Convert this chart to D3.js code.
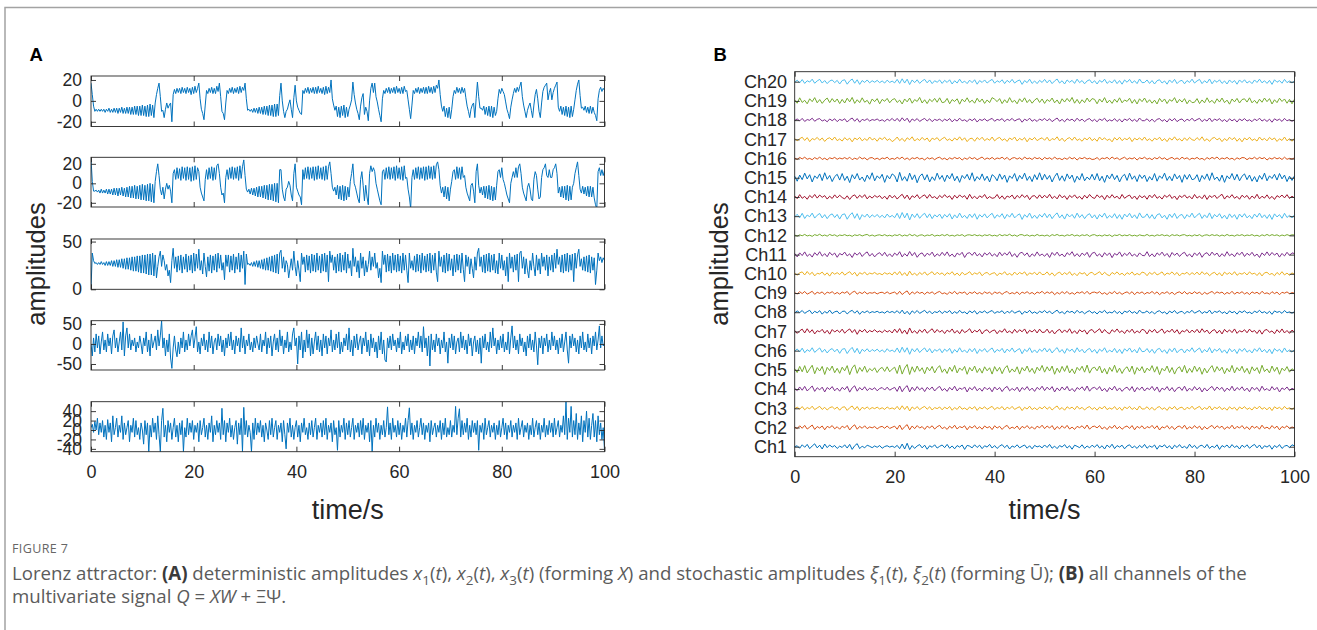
<!DOCTYPE html>
<html>
<head>
<meta charset="utf-8">
<title>Lorenz attractor</title>
<script src="https://cdn.jsdelivr.net/npm/d3@7"></script>
<style>
  html, body { margin: 0; padding: 0; background: #fff; }
  svg { display: block; }
  text { white-space: pre; }
</style>
</head>
<body>
<svg id="fig" width="1317" height="630"></svg>
<script>
// ---------- values ----------
const xTicks = [0, 20, 40, 60, 80, 100];
const yTicks1 = [-20, 0, 20];
const yTicks2 = [-20, 0, 20];
const yTicks3 = [0, 50];
const yTicks4 = [-50, 0, 50];
const yTicks5 = [-40, -20, 0, 20, 40];
const chNames = ["Ch1","Ch2","Ch3","Ch4","Ch5","Ch6","Ch7","Ch8","Ch9","Ch10",
                 "Ch11","Ch12","Ch13","Ch14","Ch15","Ch16","Ch17","Ch18","Ch19","Ch20"];

// panel A, sampled every 0.25 s over 0..100 s
const x1Vals = [17,6,-5,-10,
  -8,-10,-8,-10,-8,-10,-8,-11,-8,-10,-7,-11,-8,-11,-7,-11,-7,-12,-7,-11,-6,-12,-7,-12,-6,-12,-6,-13,-6,-13,-5,-13,-5,-14,-5,-14,-4,-14,-5,-15,-4,-15,-3,-14,-4,-16,
  -2,6,12,17,4,-10,-9,-16,-8,-2,-7,-4,-2,-20,6,
  11,7,12,8,12,7,13,8,12,7,13,8,12,6,13,7,14,8,
  12,17,2,-8,-12,-18,-4,10,
  7,12,8,13,7,12,7,14,
  9,17,4,-10,-12,-18,-2,10,
  7,12,8,13,7,12,8,13,7,14,8,
  13,10,17,2,-9,
  -8,-10,-8,-11,-7,-11,-7,-12,-6,-12,-6,-13,-5,-13,-5,-14,-4,-14,-4,-15,-3,-15,-3,
  -14,5,17,0,-10,-16,-10,-8,-3,1,-8,-16,3,15,0,-6,-9,-12,-13,10,
  7,12,8,13,7,12,8,13,7,13,7,14,8,12,7,13,6,14,7,
  13,8,20,2,-4,
  -9,-5,-15,-6,-16,-5,-14,-4,-16,-6,-15,
  -8,-4,1,18,6,-2,-8,-12,-18,-5,3,7,-13,-6,-10,-19,0,12,17,8,17,4,-1,-8,-14,-20,2,10,
  7,12,8,13,7,12,8,13,7,14,8,12,7,13,7,14,9,
  10,1,-8,-17,-4,10,
  7,12,8,13,7,12,8,13,7,13,7,14,8,13,7,14,8,15,
  12,20,6,-5,
  -10,-5,-15,-7,-16,-6,-17,
  -8,4,10,
  7,13,8,12,7,13,8,
  12,3,-5,-10,-16,-8,-4,-2,-16,2,18,4,-7,-7,
  -9,-5,-13,-6,-14,-5,-15,-5,-16,-6,-14,
  -10,2,11,7,12,9,6,-1,-8,-12,-17,-6,1,7,12,8,13,9,14,18,4,-4,-10,-16,-9,-5,-2,-9,-16,-4,6,11,2,-10,-16,-2,9,13,15,17,1,8,12,1,8,12,15,18,-6,
  -10,-5,-13,-6,-14,-5,-15,-6,-16,-5,-15,
  -8,1,10,16,20,5,-7,-6,
  -9,-5,-11,-6,-12,-5,-12,-6,-11,
  -14,-19,2,10,13,9,12,10];

const x2Vals = [25,2,-8,-8,
  -7,-9,-7,-10,-6,-10,-7,-10,-6,-11,-6,-11,-6,-12,-5,-12,-5,-13,-5,-12,-4,-13,-5,-14,-4,-14,-3,-15,-3,-15,-2,-16,-3,-16,-2,-17,-1,-17,-2,-18,-1,-18,0,-19,-1,-20,
  2,12,20,8,-6,-12,-4,-16,-6,0,-6,-2,-8,-20,10,
  14,4,16,5,15,3,17,5,16,3,17,4,16,2,17,3,18,4,
  16,12,-4,-10,-14,-18,4,14,
  4,16,5,17,3,16,4,18,
  20,10,-4,-12,-10,-20,6,14,
  4,16,5,17,4,16,5,17,3,18,5,
  17,24,8,-6,-9,
  -6,-11,-5,-12,-5,-13,-4,-14,-3,-14,-3,-15,-2,-16,-2,-17,-1,-17,-1,-18,0,-19,0,
  -20,14,14,-6,-14,-18,-6,-4,2,-2,-12,-18,10,20,-4,-8,-12,-14,-22,14,
  4,16,5,17,4,16,5,17,3,17,4,18,5,16,4,17,3,18,4,
  17,22,10,-4,-8,
  -4,-12,-2,-16,-3,-17,-2,-18,-3,-17,-4,
  -14,2,10,20,0,-4,-10,-16,-20,4,12,-2,-18,-2,-14,-22,10,18,12,16,12,0,-6,-12,-18,-22,12,14,
  4,16,5,17,4,16,5,17,3,18,5,16,4,17,3,18,5,
  6,-6,-14,-26,6,14,
  4,16,5,17,4,16,5,17,3,17,4,18,5,17,4,18,5,19,
  22,14,-2,-10,
  -4,-14,-3,-16,-4,-18,-6,
  2,12,14,
  4,17,5,16,4,17,6,
  8,-4,-10,-14,-18,-2,0,-8,-20,12,20,-2,-10,-4,
  -12,-3,-15,-3,-16,-2,-17,-3,-18,-4,-17,
  -2,12,14,6,16,4,0,-6,-12,-16,-20,0,6,12,6,16,6,17,20,10,-4,-10,-14,-18,-4,0,-6,-16,-18,4,12,8,-6,-16,-14,6,14,16,20,8,6,14,6,6,14,16,20,10,-10,
  -4,-14,-3,-15,-3,-17,-2,-18,-3,-17,-4,
  0,10,16,22,8,-6,-10,-3,
  -11,-4,-13,-3,-14,-3,-14,-4,-15,
  -22,-26,12,16,8,14,8,13];

const x3Vals = [0,38,30,27,
  28,26,28,26,29,26,28,25,29,25,29,25,30,24,30,24,31,23,31,23,32,22,32,21,33,21,33,20,34,19,34,19,35,18,35,17,36,17,36,16,37,15,37,15,38,14,
  36,12,24,34,40,24,36,30,20,26,14,20,7,30,43,
  22,34,18,35,20,36,17,34,21,37,18,35,20,36,17,38,19,37,
  22,42,20,30,16,38,24,13,
  34,19,36,17,35,20,37,18,
  38,22,36,20,28,10,36,24,
  36,18,35,20,37,17,34,21,38,18,36,
  22,40,5,37,26,
  27,25,28,24,29,24,30,23,30,22,31,21,32,20,33,20,34,19,35,18,36,17,37,
  16,38,41,22,34,18,30,26,12,22,32,20,40,24,14,30,20,8,38,26,
  34,18,36,20,35,17,37,19,36,18,38,20,35,17,37,19,38,18,36,
  8,40,28,36,20,
  34,17,37,19,38,18,36,20,39,17,37,
  22,30,14,43,24,34,18,30,12,38,22,34,14,30,18,26,40,20,34,24,38,22,28,12,22,7,40,26,
  36,18,37,19,35,17,38,20,36,18,37,19,35,17,38,20,36,
  20,7,38,22,30,20,
  35,18,37,19,36,17,38,20,35,18,37,19,38,17,36,20,38,18,
  8,40,24,34,
  18,36,17,38,19,37,20,
  32,14,36,
  18,37,20,36,17,38,21,
  8,36,24,34,16,32,22,12,34,20,38,43,24,34,
  18,36,17,37,19,38,18,36,20,37,17,
  30,16,38,22,36,20,30,14,34,8,38,22,34,18,36,20,37,8,38,40,22,34,16,32,20,12,30,20,38,24,14,36,20,32,16,38,24,34,20,36,14,34,20,36,18,38,22,42,26,
  34,18,36,17,37,19,38,18,36,20,37,
  8,38,22,36,42,24,32,20,
  34,19,35,18,36,17,34,20,33,
  5,20,38,30,34,28,33,30];

const xi1Vals = [0,-30,15,-20,25,-10,20,-25,5,30,
  -15,10,-20,25,-5,15,-25,20,35,-10,
  15,-20,5,30,-15,55,-30,20,40,-10,
  25,-15,10,-5,15,-20,5,-10,20,0,
  -25,15,-5,30,-20,10,-30,25,-10,5,
  20,-15,35,-5,20,58,-10,15,-30,10,
  -20,25,-35,-61,-10,20,-15,-32,5,-25,
  15,-10,30,-20,10,-15,25,-5,20,35,
  -10,15,43,-20,5,-25,15,-5,25,-15,
  10,-20,30,-10,20,-25,5,15,-15,25,
  -5,20,-20,10,-30,15,-10,25,-5,30,
  -15,10,-25,20,-5,15,-20,40,-10,20,
  -25,10,-5,25,-15,5,-20,15,-10,20,
  0,-15,25,-20,10,-5,30,-25,15,-10,
  20,-30,5,25,-15,15,-20,35,-5,20,
  -25,10,-10,30,-20,5,-15,25,40,-5,
  15,-50,20,-15,30,-35,10,-20,35,-10,
  25,-30,15,-25,5,30,-15,20,-20,10,
  -30,25,-10,20,-25,15,-5,35,-20,10,
  -15,25,-10,30,-25,5,-20,15,-5,25,
  -15,40,-20,10,-30,20,-10,25,-15,5,
  20,-25,15,-5,30,-20,10,-30,25,-10,
  15,-20,5,-35,20,-15,30,-25,10,-40,
  -45,15,-10,20,-15,25,-5,10,-20,15,
  -10,30,-25,5,-15,20,-5,25,-20,10,
  -15,20,-25,15,-5,30,-10,20,-20,43,
  -10,15,-30,20,-55,25,-15,10,-20,25,
  -5,15,-25,10,-10,30,-20,5,-48,15,
  -10,25,-15,20,-25,5,15,-20,30,-10,
  20,-15,10,-25,25,-5,15,-30,5,20,
  -20,10,-25,15,-48,20,-10,25,-15,5,
  -20,30,-10,40,-5,15,-25,10,-15,20,
  -10,25,-20,5,-15,30,-25,15,45,-10,
  20,-15,10,-25,25,-5,15,-20,5,-30,
  20,-10,25,-15,10,-20,30,-5,-52,15,
  -10,20,-25,15,-5,25,-20,10,-15,30,
  -5,20,-15,10,-25,15,-10,25,-20,5,
  30,-15,-48,20,-10,25,-5,15,-20,10,
  -25,20,-10,30,-15,5,-20,25,-10,15,
  -25,20,-5,30,-15,10,45,-10,20,-5,
  0];

const xi2Vals = [5,12,-5,18,0,25,-10,15,-5,20,
  -15,10,-20,22,-5,15,-25,30,-10,5,
  25,-15,10,-5,30,-20,15,-10,5,20,
  -25,10,-5,25,-15,20,-10,5,-20,15,
  0,-30,20,-10,15,-46,10,-15,25,-5,
  15,-20,30,-10,-46,20,46,-15,10,-25,
  20,-5,15,-20,5,25,-15,10,-25,15,
  -10,20,-46,5,-15,25,-10,15,-5,20,
  -20,10,-5,15,-25,20,-10,5,25,-15,
  10,-20,15,-5,30,-25,10,-10,20,-5,
  15,-20,46,-10,20,-25,15,-5,25,-15,
  10,-20,5,20,-30,15,-10,25,-46,48,
  -10,20,-15,10,-5,-46,15,-20,25,-10,
  15,-5,20,-15,10,-25,15,0,-20,20,
  -10,25,-15,5,20,-20,10,-5,15,-25,
  20,-10,-40,15,-5,25,-15,10,-20,5,
  20,-15,10,-25,15,-5,25,-10,5,-20,
  15,-10,20,-15,5,25,-20,10,-5,15,
  -15,20,-10,25,-20,10,-5,15,-25,20,
  -10,5,-43,20,-15,10,-5,25,-20,15,
  -10,20,-15,5,25,-20,10,-5,15,-15,
  20,-10,25,-20,10,-5,15,-25,20,-46,
  10,-15,25,-5,15,-20,10,-10,20,-15,
  5,49,-10,15,-20,25,-5,10,-15,20,
  -10,15,-20,10,-5,25,-15,20,47,-10,
  15,-20,10,-5,20,-15,5,25,-10,15,
  -20,10,-5,15,-25,20,-10,5,15,-15,
  10,-5,20,-20,15,-10,25,-15,5,-10,
  20,-15,10,-5,50,-10,25,45,-15,20,
  -10,15,-5,25,-20,10,-15,20,-5,15,
  -10,20,-43,10,-5,15,-20,25,-10,5,
  20,-15,10,-5,15,-20,10,-10,20,-15,
  5,25,-10,15,-20,10,-5,20,-15,10,
  -5,15,-20,25,-10,5,20,-15,10,-5,
  15,-20,10,-10,25,-15,5,20,-10,15,
  -20,10,-5,25,-15,10,-10,20,-5,15,
  -15,25,-10,5,20,-15,10,-5,30,-10,
  60,-20,25,-5,50,-15,20,-10,35,-20,
  15,-10,30,-25,20,-5,40,-15,25,-20,
  10,35,-15,20,-25,30,-10,15,-20,5,
  -43];

// panel B, sampled every 0.5 s, in hundredths of the channel spacing
const ch1 = [0,5,-8,10,-3,12,-10,4,15,-6,8,-12,14,-5,9,-2,6,-9,3,-4,
  10,-7,12,-14,5,16,-10,3,-6,8,2,-5,4,-3,6,-8,1,5,-2,3,
  -4,7,-10,14,-12,18,-15,6,-9,4,11,-6,8,-13,5,-3,10,-7,2,9,
  -5,12,-8,4,-11,6,-2,9,-14,7,3,-6,10,-4,8,-10,5,-2,12,-7,
  6,-9,3,11,-5,8,-12,4,-3,10,-6,2,9,-8,5,-11,7,-1,4,-6,
  9,-4,12,-8,3,-10,6,-2,11,-7,5,-13,8,2,-5,10,-9,4,-6,8,
  -3,11,-7,5,-12,9,-4,13,-10,6,-2,8,-11,4,10,-6,3,-9,7,-5,
  12,-8,4,-3,9,-13,6,-1,10,-7,5,-12,8,-4,11,-6,2,-9,13,-5,
  7,-10,4,8,-6,12,-9,3,-5,10,-14,6,-2,9,-7,11,-4,5,-12,8,
  -3,10,-8,4,12,-6,9,-11,5,-2,8,-13,6,-4,11,-9,3,7,-5,10,4];
const ch2 = [3,-6,9,-4,11,-8,2,13,-10,5,-3,8,-12,6,-1,10,-7,4,-9,7,
  -2,11,-13,4,14,-9,6,-4,9,-6,3,-2,5,-7,2,6,-4,8,-5,1,
  7,-9,13,-11,4,15,-12,8,-6,10,-3,5,-10,7,-2,9,-8,4,11,-6,
  2,-10,7,-4,12,-8,5,-1,9,-12,6,-3,10,-7,4,-9,8,-2,5,-11,
  9,-3,6,-10,4,11,-7,2,-5,8,-11,6,-3,10,-6,4,-9,7,-2,12,
  -6,8,-3,10,-12,5,-7,9,-4,11,-8,2,-10,6,-1,9,-6,13,-9,4,
  7,-2,10,-8,3,-11,6,-4,12,-7,5,-9,2,8,-5,10,-12,6,-3,9,
  -8,5,-2,11,-6,9,-13,4,-3,10,-7,6,-11,3,8,-5,12,-9,4,-6,
  10,-4,7,-12,5,-8,3,11,-6,9,-2,7,-10,4,-5,12,-8,6,-3,10,
  -7,4,-11,8,-3,6,-9,12,-5,2,-8,10,-4,7,-12,5,-2,9,-6,3,-2];
const ch3 = [-2,6,-5,9,-8,4,-3,11,-7,2,10,-6,5,-9,3,8,-4,6,-10,5,
  8,-11,3,12,-7,9,-12,5,-3,7,-5,4,-2,6,-4,3,-6,7,-3,2,
  -5,10,-8,13,-6,11,-14,7,-4,9,-7,3,10,-5,8,-9,4,-2,7,-8,
  6,-3,9,-10,4,-6,11,-5,2,-8,7,-4,9,-11,5,-3,8,-6,3,10,
  -7,4,-2,9,-9,6,-3,10,-6,2,8,-12,5,-4,11,-7,3,-8,6,-3,
  10,-5,7,-9,3,12,-6,4,-10,8,-2,6,-7,11,-4,5,-9,3,9,-6,
  4,-10,6,-3,11,-7,2,-5,9,-8,5,-11,7,-2,10,-6,4,-9,12,-4,
  -3,8,-7,5,-10,4,9,-6,3,-11,7,-4,10,-8,2,6,-9,5,-3,11,
  -6,3,10,-8,4,-5,12,-9,6,-2,9,-7,3,-10,8,-4,5,-11,7,-3,
  9,-6,2,-9,7,-3,11,-5,4,-8,6,-12,8,-2,5,-7,10,-4,3,-6,5];
const ch4 = [4,-8,11,-6,14,-10,3,16,-12,7,-4,10,-15,8,-2,13,-9,5,-11,9,
  -3,14,-16,6,17,-11,8,-5,12,-8,4,-3,7,-9,3,8,-5,10,-6,2,
  9,-12,16,-14,6,18,-15,10,-8,13,-4,7,-13,9,-3,11,-10,5,14,-8,
  3,-12,9,-5,15,-10,6,-2,11,-15,8,-4,13,-9,5,-11,10,-3,7,-14,
  11,-4,8,-13,5,14,-9,3,-7,10,-14,8,-4,13,-8,5,-12,9,-3,15,
  -8,10,-4,13,-15,6,-9,11,-5,14,-10,3,-13,8,-2,12,-8,16,-11,5,
  9,-3,13,-10,4,-14,8,-5,15,-9,6,-12,3,10,-7,13,-15,8,-4,11,
  -10,6,-3,14,-8,11,-16,5,-4,13,-9,8,-14,4,10,-7,15,-11,5,-8,
  13,-5,9,-15,6,-10,4,14,-8,11,-3,9,-13,5,-7,15,-10,8,-4,12,
  -9,5,-14,10,-4,8,-12,15,-6,3,-10,13,-5,9,-15,6,-3,11,-8,4,-3];
const ch5 = [6,-14,18,-10,22,-16,5,24,-20,12,-6,18,-24,13,-4,20,-15,8,-18,14,
  -5,22,-25,10,26,-18,12,-8,19,-13,7,-5,11,-14,5,13,-8,16,-10,4,
  14,-19,25,-22,9,28,-24,16,-12,20,-7,11,-20,14,-5,18,-16,8,22,-13,
  5,-19,14,-8,23,-16,10,-3,18,-23,12,-6,20,-14,8,-17,16,-5,11,-22,
  17,-7,13,-20,8,22,-14,5,-11,16,-22,12,-6,20,-12,8,-19,14,-5,23,
  -12,16,-6,20,-23,9,-14,18,-8,22,-16,5,-20,13,-3,19,-12,25,-17,8,
  14,-5,20,-16,7,-22,13,-8,24,-14,9,-19,5,16,-11,20,-23,12,-6,17,
  -16,9,-5,22,-12,17,-25,8,-6,20,-14,12,-22,6,16,-11,23,-17,8,-13,
  20,-8,14,-23,9,-16,6,22,-12,17,-5,14,-20,8,-11,23,-16,12,-6,19,
  -14,8,-22,16,-6,12,-19,24,-9,5,-16,20,-8,14,-23,9,-5,17,-12,6,-5];
const ch6 = [-3,9,-7,13,-11,5,-4,15,-9,3,14,-8,7,-12,4,11,-6,8,-14,7,
  11,-15,4,17,-10,12,-17,7,-4,10,-7,6,-3,8,-6,4,-8,10,-4,3,
  -7,14,-11,18,-8,15,-19,10,-6,12,-10,4,14,-7,11,-12,6,-3,10,-11,
  8,-4,12,-14,6,-8,15,-7,3,-11,10,-6,12,-15,7,-4,11,-8,4,14,
  -10,6,-3,12,-12,8,-4,14,-8,3,11,-16,7,-5,15,-10,4,-11,8,-4,
  14,-7,10,-12,4,16,-8,6,-14,11,-3,8,-10,15,-6,7,-12,4,12,-8,
  6,-14,8,-4,15,-10,3,-7,12,-11,7,-15,10,-3,14,-8,6,-12,16,-5,
  -4,11,-10,7,-14,6,12,-8,4,-15,10,-6,14,-11,3,8,-12,7,-4,15,
  -8,4,14,-11,6,-7,16,-12,8,-3,12,-10,4,-14,11,-6,7,-15,10,-4,
  12,-8,3,-12,10,-4,15,-7,6,-11,8,-16,11,-3,7,-10,14,-6,4,-8,6];
const ch7 = [5,-10,3,12,-8,14,-6,9,-13,4,-2,11,-9,6,-14,10,-3,7,-5,12,
  -9,4,13,-6,10,-15,8,-3,11,-7,5,-2,9,-4,3,-6,7,-3,5,-8,
  12,-6,15,-10,7,-14,18,-8,4,-11,9,-5,12,-9,3,14,-7,10,-4,6,
  -11,7,-3,13,-9,5,-12,10,-6,2,14,-8,6,-3,11,-13,4,9,-7,3,
  8,-12,5,-4,14,-7,3,-10,11,-6,9,-2,13,-11,6,-3,10,-8,12,-5,
  -4,12,-9,6,-13,3,11,-7,8,-5,14,-10,4,-12,9,-2,7,-14,5,10,
  -7,3,14,-8,10,-5,-12,9,-3,13,-6,4,-11,8,-4,12,-9,3,-7,11,
  6,-13,9,-4,11,-8,2,13,-10,5,-3,12,-7,9,-14,4,-2,10,-8,7,
  -5,11,-8,14,-4,7,-12,3,10,-9,6,-13,11,-4,8,-6,13,-10,4,-3,
  9,-7,12,-3,5,-11,8,-14,6,10,-5,3,-12,9,-6,13,-8,5,-10,7,-4];
const ch8 = [-4,7,-2,9,-6,3,10,-8,5,-3,8,-10,4,-5,11,-7,2,6,-9,4,
  6,-9,3,10,-5,8,-11,4,-2,7,-4,3,-1,5,-3,2,-5,6,-2,4,
  -3,8,-6,11,-9,5,-12,7,-4,9,-6,2,10,-5,6,-8,3,-2,8,-7,
  5,-2,9,-8,3,-6,10,-4,2,-9,7,-3,8,-10,4,-2,7,-5,3,9,
  -6,3,-1,8,-8,5,-3,9,-5,2,7,-11,4,-3,10,-6,2,-7,5,-2,
  9,-4,6,-8,2,11,-5,3,-9,7,-1,5,-6,10,-3,4,-8,2,8,-5,
  3,-9,5,-2,10,-6,1,-4,8,-7,4,-10,6,-1,9,-5,3,-8,11,-3,
  -2,7,-6,4,-9,3,8,-5,2,-10,6,-3,9,-7,1,5,-8,4,-2,10,
  -5,2,9,-7,3,-4,11,-8,5,-1,8,-6,2,-9,7,-3,4,-10,6,-2,
  8,-5,1,-8,6,-2,10,-4,3,-7,5,-11,7,-1,4,-6,9,-3,2,-5,3];
const ch9 = [2,-5,7,-3,8,-6,1,9,-7,4,-2,6,-8,5,-1,7,-5,3,-6,5,
  -1,8,-9,3,10,-6,4,-3,7,-5,2,-1,4,-5,2,4,-3,6,-4,1,
  5,-7,9,-8,3,11,-9,6,-4,7,-2,4,-7,5,-2,6,-6,3,8,-4,
  1,-7,5,-3,9,-6,4,-1,6,-9,4,-2,7,-5,3,-6,6,-2,4,-8,
  6,-2,4,-7,3,8,-5,2,-4,6,-8,5,-2,7,-4,3,-7,5,-1,9,
  -4,6,-2,7,-9,3,-5,7,-3,8,-6,2,-7,5,-1,7,-4,9,-6,3,
  5,-1,7,-6,2,-8,4,-3,9,-5,4,-7,1,6,-4,7,-9,5,-2,6,
  -6,3,-2,8,-4,6,-9,3,-2,7,-5,4,-8,2,6,-4,8,-6,3,-4,
  7,-3,5,-9,4,-6,2,8,-4,6,-1,5,-7,3,-4,9,-6,4,-2,7,
  -5,3,-8,6,-2,4,-6,9,-3,1,-6,7,-3,5,-9,4,-1,6,-4,2,-1];
const ch10 = [3,-7,5,10,-6,12,-4,8,-11,3,-1,9,-7,5,-12,8,-2,6,-4,10,
  -7,3,11,-5,8,-12,6,-2,9,-6,4,-1,7,-3,2,-5,6,-2,4,-6,
  10,-5,12,-8,6,-11,14,-6,3,-9,7,-4,10,-7,2,11,-6,8,-3,5,
  -9,6,-2,11,-7,4,-10,8,-5,1,11,-6,5,-2,9,-10,3,7,-5,2,
  6,-10,4,-3,11,-6,2,-8,9,-5,7,-1,10,-9,5,-2,8,-6,10,-4,
  -3,10,-7,5,-11,2,9,-6,6,-4,11,-8,3,-10,7,-1,6,-11,4,8,
  -6,2,11,-6,8,-4,-10,7,-2,10,-5,3,-9,6,-3,10,-7,2,-6,9,
  5,-10,7,-3,9,-6,1,10,-8,4,-2,10,-5,7,-11,3,-1,8,-6,6,
  -4,9,-6,11,-3,6,-10,2,8,-7,5,-11,9,-3,6,-5,11,-8,3,-2,
  7,-6,10,-2,4,-9,6,-11,5,8,-4,2,-10,7,-5,11,-6,4,-8,5,-3];
const ch11 = [6,-12,9,-5,14,-9,3,-13,10,-4,15,-8,5,-11,12,-3,8,-14,6,-2,
  13,-7,4,-15,9,-3,11,-10,5,14,-8,6,-12,3,10,-6,12,-9,4,-11,
  8,-4,15,-12,5,-8,16,-6,11,-14,3,9,-10,7,-3,13,-11,4,-7,12,
  -5,14,-9,3,-13,8,-2,12,-15,6,10,-4,13,-7,5,-12,9,-3,11,-8,
  4,-11,13,-6,9,-3,15,-10,5,-14,7,12,-5,9,-13,4,-8,14,-6,3,
  -9,6,-15,11,-4,13,-7,3,-12,10,-2,15,-9,5,-11,8,-4,12,-14,7,
  12,-8,4,-13,10,-5,9,-16,6,-3,14,-10,7,-5,12,-8,3,-11,9,-4,
  -6,15,-10,4,-12,9,-3,13,-7,6,-14,11,-4,8,-10,5,12,-9,3,-13,
  9,-5,11,-14,4,10,-7,13,-3,8,-12,5,-9,15,-6,4,-11,10,-2,13,
  -10,7,-4,12,-8,3,-15,9,-5,14,-6,11,-3,8,-13,6,-7,12,-4,9,5];
const ch12 = [2,-4,3,-2,5,-3,1,-5,4,-1,6,-3,2,-4,5,-1,3,-5,2,-1,
  4,-2,1,-5,3,-1,4,-3,2,5,-3,2,-4,1,3,-2,4,-3,1,-4,
  3,-1,5,-4,2,-3,6,-2,4,-5,1,3,-4,2,-1,5,-4,1,-2,4,
  -2,5,-3,1,-4,3,-1,4,-5,2,3,-1,4,-2,2,-4,3,-1,4,-3,
  1,-4,5,-2,3,-1,6,-3,2,-5,3,4,-2,3,-4,1,-3,5,-2,1,
  -3,2,-5,4,-1,5,-2,1,-4,3,-1,5,-3,2,-4,3,-1,4,-5,2,
  4,-3,1,-4,3,-2,3,-6,2,-1,5,-3,2,-2,4,-3,1,-4,3,-1,
  -2,5,-3,1,-4,3,-1,4,-2,2,-5,4,-1,3,-3,2,4,-3,1,-4,
  3,-2,4,-5,1,3,-2,4,-1,3,-4,2,-3,5,-2,1,-4,3,-1,4,
  -3,2,-1,4,-3,1,-5,3,-2,5,-2,4,-1,3,-4,2,-2,4,-1,3,2];
const ch13 = [-4,10,-8,15,-12,6,-3,16,-10,5,14,-9,8,-13,5,12,-7,9,-15,8,
  12,-16,5,18,-11,13,-18,8,-5,11,-8,7,-4,9,-7,5,-9,11,-5,4,
  -8,15,-12,19,-9,16,-20,11,-7,13,-11,5,15,-8,12,-13,7,-4,11,-12,
  9,-5,13,-15,7,-9,16,-8,4,-12,11,-7,13,-16,8,-5,12,-9,5,15,
  -11,7,-4,13,-13,9,-5,15,-9,4,12,-17,8,-6,16,-11,5,-12,9,-5,
  15,-8,11,-13,5,17,-9,7,-15,12,-4,9,-11,16,-7,8,-13,5,13,-9,
  7,-15,9,-5,16,-11,4,-8,13,-12,8,-16,11,-4,15,-9,7,-13,17,-6,
  -5,12,-11,8,-15,7,13,-9,5,-16,11,-7,15,-12,4,9,-13,8,-5,16,
  -9,5,15,-12,7,-8,17,-13,9,-4,13,-11,5,-15,12,-7,8,-16,11,-5,
  13,-9,4,-13,11,-5,16,-8,7,-12,9,-17,12,-4,8,-11,15,-7,5,-9,7];
const ch14 = [5,-9,12,-7,3,-12,8,-4,13,-6,10,-2,7,-11,4,-8,11,-5,9,-3,
  -10,6,-13,4,11,-7,9,-3,12,-10,5,-6,8,-2,7,-9,4,-12,10,-5,
  7,-11,3,14,-8,10,-14,6,-3,12,-9,4,11,-7,13,-5,2,-10,8,-4,
  12,-3,6,-13,9,-6,11,-2,7,-12,14,-8,4,-10,6,-3,13,-9,2,-7,
  -4,13,-9,6,-12,5,-2,10,-11,8,-5,12,-3,9,-14,4,7,-8,11,-6,
  9,-5,14,-8,4,-10,12,-4,6,-13,8,-3,11,-7,3,-12,9,-6,13,-2,
  -8,11,-3,7,-14,9,-6,12,-5,4,-11,13,-7,3,10,-9,5,-13,8,-4,
  6,-12,10,-4,13,-7,3,-11,9,-2,12,-8,5,-14,7,-3,11,-6,4,-10,
  13,-6,4,-9,11,-13,7,-3,10,-8,5,14,-11,6,-4,12,-7,3,-12,9,
  -3,8,-12,5,-7,14,-10,4,-6,11,-9,3,-13,7,-2,10,-5,12,-8,4,-6];
const ch15 = [8,-18,14,-10,24,-6,16,-22,10,-4,20,-15,26,-8,12,-20,6,18,-12,22,
  -14,8,-25,16,-6,22,-12,4,-20,14,-8,26,-16,10,-4,18,-24,12,-6,20,
  10,-22,28,-14,6,-18,24,-10,15,-26,8,20,-12,16,-22,5,-14,24,-8,12,
  -20,14,-6,22,-16,8,-24,12,-4,18,-12,26,-18,6,-10,20,-14,8,-22,16,
  6,-16,20,-8,14,-24,10,-4,22,-18,12,-6,24,-14,8,-20,16,-10,26,-12,
  18,-8,12,-22,6,24,-14,10,-18,20,-6,14,-24,8,-12,22,-16,4,-10,18,
  -12,22,-16,8,-24,14,-6,20,-10,12,-22,6,18,-14,24,-8,10,-20,16,-4,
  14,-20,6,-12,22,-18,10,-4,24,-14,8,-16,20,-6,12,-24,16,-8,18,-10,
  -6,16,-22,12,-8,20,-14,26,-10,4,-18,14,-24,10,-6,22,-12,18,-16,8,
  20,-10,14,-18,6,-22,12,-8,24,-16,10,-4,18,-12,22,-6,14,-20,8,-14,10];
const ch16 = [3,-5,6,-2,7,-4,1,-6,5,-3,8,-5,2,-7,4,-1,6,-4,3,-2,
  5,-3,7,-6,2,-4,8,-2,4,-7,3,5,-4,2,-6,3,-1,7,-5,1,
  -4,6,-2,8,-5,3,-7,4,-1,6,-3,2,-8,5,-2,4,-6,3,7,-4,
  2,-7,4,-3,6,-1,5,-8,3,-4,7,-2,5,-6,1,8,-5,3,-3,6,
  -5,3,-1,7,-4,6,-8,2,5,-3,4,-6,8,-2,3,-5,6,-1,4,-7,
  6,-2,4,-5,8,-3,1,-6,3,-4,7,-2,5,-8,4,-1,6,-3,2,-5,
  -3,5,-7,3,-1,6,-4,8,-2,4,-6,1,7,-5,3,-2,5,-8,4,-1,
  7,-4,2,-6,5,-2,8,-3,4,-7,1,6,-4,3,-5,7,-2,4,-6,2,
  -2,6,-4,1,-7,5,-3,6,-1,8,-5,3,-2,6,-4,2,-7,4,-3,5,
  4,-6,3,-2,7,-4,6,-1,5,-8,3,-3,6,-2,4,-5,7,-4,1,-3,4];
const ch17 = [5,-8,3,11,-6,9,-12,4,-2,10,-5,7,-11,3,8,-4,12,-7,2,-9,
  9,-4,6,-13,7,-2,10,-8,4,-6,12,-3,5,-10,8,-1,11,-6,3,-12,
  -3,12,-7,5,-11,8,-2,13,-9,4,-6,10,-4,7,-13,6,-1,9,-8,3,
  11,-6,2,-9,7,-4,13,-5,8,-12,3,6,-10,9,-2,11,-7,4,-5,12,
  -8,4,10,-6,3,-11,7,-2,12,-9,5,-4,9,-13,6,-3,10,-7,2,8,
  -5,11,-9,4,-2,13,-8,6,-11,3,9,-5,12,-6,2,-10,7,-3,11,-7,
  4,-10,12,-3,8,-6,2,-13,9,-4,11,-7,5,-2,10,-12,6,-3,8,-5,
  12,-7,3,-10,6,-2,11,-8,4,-12,7,-4,13,-5,3,-9,8,-6,10,-2,
  -6,9,-4,13,-8,3,-11,5,10,-3,6,-12,4,-7,11,-2,9,-10,5,-13,
  7,-3,11,-6,2,-9,12,-4,5,-8,10,-2,7,-11,3,-6,12,-8,4,-10,6];
const ch18 = [-2,6,-4,9,-7,3,-1,10,-6,4,8,-5,2,-9,6,-3,7,-8,4,-2,
  7,-10,3,11,-6,8,-11,4,-2,7,-5,3,-1,6,-4,2,-7,5,-3,9,
  -5,9,-7,12,-4,10,-12,6,-3,8,-7,2,9,-5,7,-8,4,-2,6,-7,
  5,-3,8,-9,4,-5,10,-4,2,-8,6,-3,8,-10,4,-2,7,-5,3,9,
  -6,4,-1,8,-8,5,-2,9,-5,3,7,-11,5,-3,10,-6,3,-7,6,-2,
  9,-4,7,-8,2,11,-6,4,-9,7,-2,5,-7,10,-4,5,-8,3,8,-6,
  4,-9,6,-2,10,-7,2,-5,8,-7,5,-10,6,-2,9,-6,4,-8,11,-3,
  -3,7,-7,5,-9,4,8,-6,3,-10,7,-4,9,-8,2,6,-8,5,-3,10,
  -5,3,9,-8,4,-5,11,-8,6,-2,8,-7,3,-9,7,-4,5,-10,6,-3,
  8,-5,2,-8,6,-3,10,-5,4,-7,5,-11,7,-2,5,-7,9,-4,3,-6,2];
const ch19 = [5,-12,16,-8,3,-15,11,-4,17,-10,7,-13,4,15,-9,12,-6,10,-14,8,
  -11,14,-5,18,-13,6,-9,16,-7,3,-17,10,-4,12,-15,8,-2,13,-10,6,
  12,-8,4,-16,10,-5,15,-12,7,-3,18,-11,6,-14,9,-4,13,-7,16,-9,
  -6,13,-15,7,-3,11,-17,9,-5,16,-8,4,-12,14,-6,10,-13,5,-9,17,
  9,-4,12,-14,6,-10,17,-7,3,-15,11,-5,16,-9,7,-12,4,14,-8,10,
  -13,7,-3,15,-10,5,-16,11,-6,13,-4,18,-12,8,-14,6,-9,15,-5,12,
  8,-15,10,-6,17,-11,4,-13,9,-7,16,-10,5,-3,14,-12,7,-16,11,-4,
  15,-9,6,-12,4,-16,13,-5,10,-14,7,-2,17,-11,8,-6,12,-15,5,-9,
  -7,12,-14,5,-10,16,-8,3,-13,11,-6,15,-9,4,-17,10,-5,13,-11,7,
  11,-6,16,-10,3,-13,9,-7,15,-4,12,-16,6,-9,14,-3,10,-12,8,-15,9];
const ch20 = [-3,8,-6,11,-9,5,-2,13,-8,4,12,-7,6,-10,4,9,-5,7,-12,6,
  10,-13,4,14,-8,10,-14,6,-4,9,-6,5,-3,7,-5,4,-7,8,-4,3,
  -6,12,-9,15,-7,13,-15,9,-5,10,-9,4,12,-6,9,-10,5,-3,9,-9,
  7,-4,10,-12,5,-7,13,-6,3,-10,8,-5,10,-13,6,-4,9,-7,4,12,
  -8,5,-3,10,-10,7,-4,12,-7,3,9,-14,6,-5,13,-9,4,-10,7,-4,
  12,-6,9,-10,4,14,-7,5,-12,9,-3,7,-9,13,-5,6,-11,4,10,-7,
  5,-12,7,-3,13,-9,3,-6,10,-10,6,-13,9,-3,12,-7,5,-10,14,-5,
  -4,9,-9,6,-12,5,10,-7,4,-13,9,-5,12,-10,3,7,-11,6,-4,13,
  -7,4,12,-10,5,-6,14,-11,7,-3,10,-9,4,-12,9,-5,6,-13,9,-4,
  10,-7,3,-10,9,-4,13,-6,5,-9,7,-14,10,-3,6,-8,12,-5,4,-7,5];

const channels = [ch1, ch2, ch3, ch4, ch5, ch6, ch7, ch8, ch9, ch10,
                  ch11, ch12, ch13, ch14, ch15, ch16, ch17, ch18, ch19, ch20];
const chAmpUnit = 0.01;

// ---------- drawing ----------
const svg = d3.select("#fig");
const FONT = '"Liberation Sans", Arial, Helvetica, sans-serif';
const CAPFONT = '"Open Sans", "Noto Sans", sans-serif';
const INK = "#262626";
const matlabColors = ["#0072BD", "#D95319", "#EDB120", "#7E2F8E", "#77AC30", "#4DBEEE", "#A2142F"];

// page frame (top and left rule)
svg.append("path")
  .attr("d", "M5,630V7.5H1317")
  .attr("fill", "none")
  .attr("stroke", "#a3a3a3")
  .attr("stroke-width", 1.5);

function timesFor(vals) {
  return vals.map((v, i) => 100 * i / (vals.length - 1));
}

function styleAxis(g, size) {
  g.select(".domain").remove();
  g.attr("font-family", FONT).attr("font-size", size).style("color", INK);
  g.selectAll(".tick line").attr("stroke-width", 0.9);
}

// MATLAB-style labels use a plain hyphen for negatives
const plainNum = d => String(d);

// draws the box with inward ticks on all four sides
function drawAxes(g, x, y, xVals, yVals, opts) {
  const [x0, x1] = x.range();
  const [y0, y1] = y.range();   // y0 = bottom, y1 = top

  g.append("g").attr("transform", `translate(0,${y0})`)
    .call(d3.axisBottom(x).tickValues(xVals).tickSizeInner(-5).tickSizeOuter(0)
      .tickPadding(13.8).tickFormat(opts.xLabels ? plainNum : ""))
    .call(s => styleAxis(s, 18));
  g.append("g").attr("transform", `translate(0,${y1})`)
    .call(d3.axisTop(x).tickValues(xVals).tickSizeInner(-5).tickSizeOuter(0).tickFormat(""))
    .call(s => styleAxis(s, 18));
  g.append("g").attr("transform", `translate(${x0},0)`)
    .call(d3.axisLeft(y).tickValues(yVals).tickSizeInner(-5).tickSizeOuter(0)
      .tickPadding(opts.yPad).tickFormat(opts.yFormat))
    .call(s => styleAxis(s, opts.ySize));
  g.append("g").attr("transform", `translate(${x1},0)`)
    .call(d3.axisRight(y).tickValues(yVals).tickSizeInner(-5).tickSizeOuter(0).tickFormat(""))
    .call(s => styleAxis(s, 18));

  g.append("rect")
    .attr("x", x0).attr("y", y1)
    .attr("width", x1 - x0).attr("height", y0 - y1)
    .attr("fill", "none")
    .attr("stroke", INK)
    .attr("stroke-width", 0.9);
}

// ---- panel A ----
const xA = d3.scaleLinear().domain([0, 100]).range([91, 604.5]);

const panelsA = [
  { vals: x1Vals,  ticks: yTicks1, domain: [-24.5, 23.8], top: 76,    bottom: 126.5 },
  { vals: x2Vals,  ticks: yTicks2, domain: [-24.3, 26.7], top: 157.3, bottom: 207 },
  { vals: x3Vals,  ticks: yTicks3, domain: [0, 52.7],     top: 239,   bottom: 289.3 },
  { vals: xi1Vals, ticks: yTicks4, domain: [-65, 58],     top: 320.7, bottom: 370 },
  { vals: xi2Vals, ticks: yTicks5, domain: [-46, 60],     top: 401.7, bottom: 451.7 }
];

panelsA.forEach((p, k) => {
  const y = d3.scaleLinear().domain(p.domain).range([p.bottom, p.top]);
  const g = svg.append("g");
  const clipId = "clipA" + k;
  g.append("clipPath").attr("id", clipId)
    .append("rect")
    .attr("x", xA(0)).attr("y", p.top)
    .attr("width", xA(100) - xA(0)).attr("height", p.bottom - p.top);

  const t = timesFor(p.vals);
  g.append("path")
    .datum(p.vals)
    .attr("clip-path", `url(#${clipId})`)
    .attr("fill", "none")
    .attr("stroke", matlabColors[0])
    .attr("stroke-width", 1)
    .attr("stroke-linejoin", "round")
    .attr("d", d3.line().x((d, i) => xA(t[i])).y(d => y(d)));

  drawAxes(g, xA, y, xTicks, p.ticks, {
    xLabels: k === panelsA.length - 1,
    yPad: 9, ySize: 17.5, yFormat: plainNum
  });
});

// ---- panel B ----
const xB = d3.scaleLinear().domain([0, 100]).range([794.7, 1294.5]);
const yB = d3.scaleLinear().domain([0.48, 20.52]).range([456.7, 71.7]);
const gB = svg.append("g");

channels.forEach((vals, c) => {
  const t = timesFor(vals);
  gB.append("path")
    .datum(vals)
    .attr("fill", "none")
    .attr("stroke", matlabColors[c % matlabColors.length])
    .attr("stroke-width", 1)
    .attr("stroke-linejoin", "round")
    .attr("d", d3.line().x((d, i) => xB(t[i])).y(d => yB(c + 1 + d * chAmpUnit)));
});

drawAxes(gB, xB, yB, xTicks, d3.range(1, chNames.length + 1), {
  xLabels: true, yPad: 7.7, ySize: 18, yFormat: i => chNames[i - 1]
});

// ---- titles and axis labels ----
function label(x, y, text, size, opts = {}) {
  const t = svg.append("text")
    .attr("font-family", FONT)
    .attr("font-size", size)
    .attr("fill", opts.fill || INK)
    .attr("text-anchor", opts.anchor || "middle")
    .attr("font-weight", opts.weight || "normal")
    .text(text);
  if (opts.rotate) t.attr("transform", `translate(${x},${y}) rotate(-90)`);
  else t.attr("x", x).attr("y", y);
  return t;
}

label(29.5, 60.7, "A", 18.5, { anchor: "start", weight: "bold", fill: "#000" });
label(713.5, 60.7, "B", 18.5, { anchor: "start", weight: "bold", fill: "#000" });
label((xA(0) + xA(100)) / 2, 519, "time/s", 27);
label((xB(0) + xB(100)) / 2, 519, "time/s", 27);
label(45, 264, "amplitudes", 25.5, { rotate: true });
label(728, 264, "amplitudes", 25.5, { rotate: true });

// ---- caption ----
const capColor = "#5b5b5b";
svg.append("text")
  .attr("x", 12).attr("y", 553)
  .attr("font-family", CAPFONT)
  .attr("font-size", 12.5)
  .attr("letter-spacing", 0.4)
  .attr("fill", "#666")
  .text("FIGURE 7");

function richText(x, y, parts, size) {
  const t = svg.append("text")
    .attr("x", x).attr("y", y)
    .attr("font-family", CAPFONT)
    .attr("font-size", size)
    .attr("fill", capColor);
  let shifted = false;
  parts.forEach(([s, f]) => {
    const sp = t.append("tspan").text(s);
    if (f === "b") sp.attr("font-weight", "bold").attr("fill", "#3a3a3a");
    if (f === "i") sp.attr("font-style", "italic");
    if (f === "s") {
      sp.attr("font-size", size * 0.72).attr("dy", size * 0.28);
      shifted = true;
    } else if (shifted) {
      sp.attr("dy", -size * 0.28);
      shifted = false;
    }
  });
  return t;
}

const capLine1 = [
  ["Lorenz attractor: ", ""], ["(A)", "b"], [" deterministic amplitudes ", ""],
  ["x", "i"], ["1", "s"], ["(", ""], ["t", "i"], ["), ", ""],
  ["x", "i"], ["2", "s"], ["(", ""], ["t", "i"], ["), ", ""],
  ["x", "i"], ["3", "s"], ["(", ""], ["t", "i"], [") (forming ", ""], ["X", "i"],
  [") and stochastic amplitudes ", ""],
  ["ξ", "i"], ["1", "s"], ["(", ""], ["t", "i"], ["), ", ""],
  ["ξ", "i"], ["2", "s"], ["(", ""], ["t", "i"], [") (forming Ū); ", ""],
  ["(B)", "b"], [" all channels of the", ""]
];
const capLine2 = [
  ["multivariate signal ", ""], ["Q", "i"], [" = ", ""], ["XW", "i"], [" + ΞΨ.", ""]
];

const l1 = richText(12, 580, capLine1, 16);
const w1 = l1.node().getComputedTextLength();
const capSize = 16 * 1235 / w1;
l1.remove();
richText(12, 580, capLine1, capSize);
richText(12, 603, capLine2, capSize);
</script>
</body>
</html>
